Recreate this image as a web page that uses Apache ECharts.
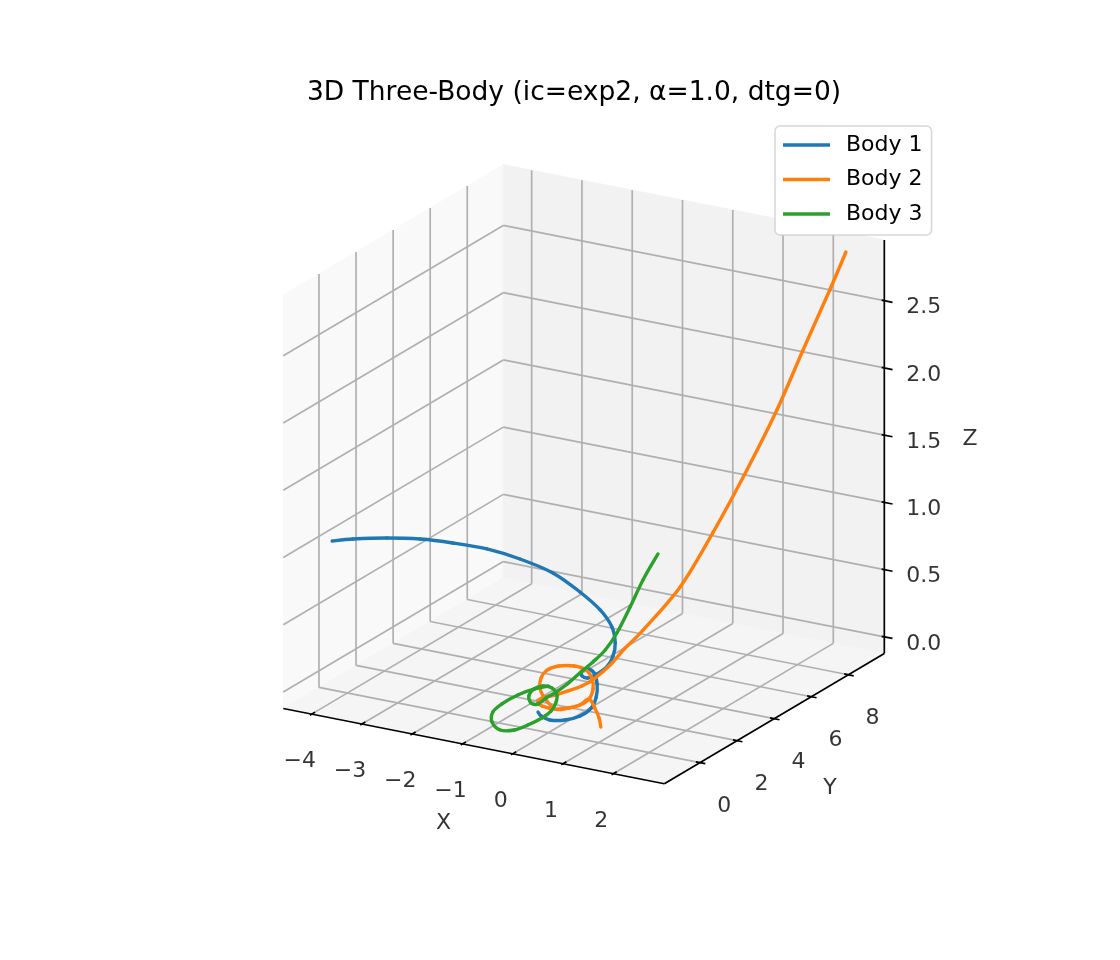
<!DOCTYPE html>
<html>
<head>
<meta charset="utf-8">
<title>3D Three-Body</title>
<script src="https://cdn.jsdelivr.net/npm/echarts@6.0.0/dist/echarts.min.js"></script>
<style>
html, body { margin: 0; padding: 0; background: #fff; }
#chart { width: 1120px; height: 960px; }
</style>
</head>
<body>
<div id="chart"></div>
<script>
// trajectories (x, y, z)
var body1X = [-4.25, -4.02, -3.61, -3.19, -2.74, -2.25, -1.74, -1.17, -0.59, -0.14, 0.16, 0.34, 0.40, 0.38, 0.24, 0.10, -0.07, -0.23, -0.19, 0.00, 0.29, 0.57, 0.74, 0.74, 0.58, 0.32, 0.06, -0.09];
var body1Y = [-0.14, 0.37, 1.08, 1.73, 2.27, 2.78, 3.18, 3.41, 3.30, 3.17, 2.99, 2.68, 2.40, 2.12, 1.97, 1.85, 2.00, 2.43, 2.65, 2.46, 1.84, 1.03, 0.30, -0.30, -0.69, -0.80, -0.55, -0.32];
var body1Z = [1.00, 0.99, 0.97, 0.94, 0.90, 0.85, 0.78, 0.70, 0.61, 0.52, 0.43, 0.35, 0.28, 0.22, 0.17, 0.14, 0.13, 0.12, 0.12, 0.12, 0.11, 0.10, 0.09, 0.08, 0.07, 0.06, 0.05, 0.05];

var body2X = [2.47, 2.27, 1.96, 1.66, 1.30, 0.92, 0.61, 0.26, 0.04, 0.04, 0.04, -0.02, -0.14, -0.26, -0.36, -0.37, -0.18, 0.09, 0.26, 0.36, 0.38, 0.22, -0.04, -0.30, -0.54, -0.77, -0.84, -0.73, -0.53, -0.28, 0.09, 0.26, 0.36, 0.38, 0.59, 0.87, 1.09];
var body2Y = [9.35, 9.02, 8.42, 7.82, 7.18, 6.37, 5.45, 4.40, 4.03, 3.22, 2.40, 1.86, 1.43, 1.07, 0.80, 0.43, 0.14, 0.11, 0.36, 0.72, 1.16, 1.81, 2.45, 2.83, 2.85, 2.64, 2.21, 1.58, 0.98, 0.51, 0.11, 0.36, 0.72, 1.16, 0.90, 0.37, -0.13];
var body2Z = [2.87, 2.60, 2.18, 1.76, 1.34, 0.91, 0.56, 0.30, 0.18, 0.12, 0.09, 0.07, 0.06, 0.05, 0.05, 0.05, 0.05, 0.05, 0.05, 0.05, 0.06, 0.07, 0.08, 0.09, 0.10, 0.10, 0.10, 0.10, 0.09, 0.08, 0.05, 0.05, 0.05, 0.06, 0.03, 0.02, 0.01];

var body3X = [0.43, 0.42, 0.47, 0.52, 0.47, 0.35, 0.23, 0.15, 0.05, -0.05, -0.09, -0.25, -0.46, -0.56, -0.50, -0.32, -0.10, 0.05, 0.08, 0.05, -0.05, -0.16, -0.37, -0.69, -0.90, -0.90, -0.82, -0.65, -0.49];
var body3Y = [4.74, 3.96, 3.13, 2.28, 1.79, 1.45, 1.07, 0.61, 0.28, 0.01, -0.33, -0.26, 0.19, 0.74, 1.06, 1.05, 0.73, 0.26, -0.08, -0.49, -0.98, -1.41, -1.60, -1.17, -0.56, -0.08, 0.57, 1.03, 1.31];
var body3Z = [0.85, 0.72, 0.59, 0.47, 0.38, 0.31, 0.25, 0.20, 0.16, 0.13, 0.11, 0.10, 0.10, 0.10, 0.10, 0.10, 0.09, 0.08, 0.05, 0.03, 0.01, 0.00, 0.00, 0.00, 0.01, 0.03, 0.05, 0.07, 0.08];

var bodyNames = ['Body 1', 'Body 2', 'Body 3'];
var xTicks = [-4, -3, -2, -1, 0, 1, 2];
var yTicks = [0, 2, 4, 6, 8];
var zTicks = [0, 0.5, 1, 1.5, 2, 2.5];

// view box of the 3d axes
var xLim = [-4.565, 3.015];
var yLim = [-1.925, 9.942];
var zLim = [-0.1235, 2.9516];

// camera, like view_init(elev=20, azim=-60), orthographic
var elev = 20, azim = -60;
var boxCx = 583.8, boxCy = 474.25, boxK = 220;
var W = 1120, H = 960;

var se = Math.sin(elev * Math.PI / 180), ce = Math.cos(elev * Math.PI / 180);
var sa = Math.sin(azim * Math.PI / 180), ca = Math.cos(azim * Math.PI / 180);

function nrm(v, lim) { return 2 * (v - lim[0]) / (lim[1] - lim[0]) - 1; }
function proj(x, y, z) {
    var a = nrm(x, xLim), b = nrm(y, yLim), c = nrm(z, zLim);
    return [-sa * a + ca * b, -se * ca * a - se * sa * b + ce * c];
}
function seg(p, q) {
    var a = proj(p[0], p[1], p[2]), b = proj(q[0], q[1], q[2]);
    return [a[0], a[1], b[0], b[1]];
}
function fmt(t, d) {
    var s = d ? Math.abs(t).toFixed(d) : String(Math.abs(t));
    return t < 0 ? '\u2212' + s : s;
}

var xh = (xLim[1] - xLim[0]) / 2, yh = (yLim[1] - yLim[0]) / 2;
var fontFam = 'DejaVu Sans';

// panes
var panes = [
    [[xLim[0], yLim[0], zLim[0]], [xLim[0], yLim[1], zLim[0]], [xLim[0], yLim[1], zLim[1]], [xLim[0], yLim[0], zLim[1]]],
    [[xLim[0], yLim[1], zLim[0]], [xLim[1], yLim[1], zLim[0]], [xLim[1], yLim[1], zLim[1]], [xLim[0], yLim[1], zLim[1]]],
    [[xLim[0], yLim[0], zLim[0]], [xLim[1], yLim[0], zLim[0]], [xLim[1], yLim[1], zLim[0]], [xLim[0], yLim[1], zLim[0]]]
];
var paneFill = ['#f9f9f9', '#f2f2f2', '#f5f5f5'];
var paneData = panes.map(function (p) {
    var out = [];
    p.forEach(function (c) { var q = proj(c[0], c[1], c[2]); out.push(q[0], q[1]); });
    return out;
});

// grid lines on the panes
var gridSegs = [];
xTicks.forEach(function (t) {
    gridSegs.push(seg([t, yLim[0], zLim[0]], [t, yLim[1], zLim[0]]));
    gridSegs.push(seg([t, yLim[1], zLim[0]], [t, yLim[1], zLim[1]]));
});
yTicks.forEach(function (t) {
    gridSegs.push(seg([xLim[0], t, zLim[0]], [xLim[1], t, zLim[0]]));
    gridSegs.push(seg([xLim[0], t, zLim[0]], [xLim[0], t, zLim[1]]));
});
zTicks.forEach(function (t) {
    gridSegs.push(seg([xLim[0], yLim[0], t], [xLim[0], yLim[1], t]));
    gridSegs.push(seg([xLim[0], yLim[1], t], [xLim[1], yLim[1], t]));
});

// axis lines and tick marks
var axisSegs = [
    seg([xLim[0], yLim[0], zLim[0]], [xLim[1], yLim[0], zLim[0]]),
    seg([xLim[1], yLim[0], zLim[0]], [xLim[1], yLim[1], zLim[0]]),
    seg([xLim[1], yLim[1], zLim[0]], [xLim[1], yLim[1], zLim[1]])
];
xTicks.forEach(function (t) {
    axisSegs.push(seg([t, yLim[0] - 0.016 * yh, zLim[0]], [t, yLim[0] + 0.031 * yh, zLim[0]]));
});
yTicks.forEach(function (t) {
    axisSegs.push(seg([xLim[1] - 0.022 * xh, t, zLim[0]], [xLim[1] + 0.028 * xh, t, zLim[0]]));
});
zTicks.forEach(function (t) {
    axisSegs.push(seg([xLim[1] - 0.014 * xh, yLim[1], t], [xLim[1] + 0.043 * xh, yLim[1], t]));
});

function segSeries(segs, color, width, z) {
    return {
        type: 'custom', coordinateSystem: 'cartesian2d', silent: true, z: z,
        data: segs, encode: { x: [0, 2], y: [1, 3] },
        renderItem: function (params, api) {
            var p = api.coord([api.value(0), api.value(1)]);
            var q = api.coord([api.value(2), api.value(3)]);
            return {
                type: 'line',
                shape: { x1: p[0], y1: p[1], x2: q[0], y2: q[1] },
                style: { stroke: color, lineWidth: width, lineCap: 'butt' }
            };
        }
    };
}

function textSeries(items, off) {
    return {
        type: 'scatter', silent: true, symbolSize: 1, z: 4,
        itemStyle: { color: 'rgba(0,0,0,0)' },
        data: items,
        label: {
            show: true, position: 'inside', formatter: '{b}', offset: off,
            color: '#000', fontSize: 22, fontFamily: fontFam
        }
    };
}

var xLabels = xTicks.map(function (t) { return { name: fmt(t), value: proj(t, yLim[0], zLim[0]) }; });
var yLabels = yTicks.map(function (t) { return { name: fmt(t), value: proj(xLim[1], t, zLim[0]) }; });
var zLabels = zTicks.map(function (t) { return { name: fmt(t, 1), value: proj(xLim[1], yLim[1], t) }; });
var xMid = (xLim[0] + xLim[1]) / 2, yMid = (yLim[0] + yLim[1]) / 2, zMid = (zLim[0] + zLim[1]) / 2;

// each trajectory drawn as a chain of cubic pieces through its projected points
function bodySeries(name, xs, ys, zs, color) {
    var pts = xs.map(function (x, i) { return proj(x, ys[i], zs[i]); });
    var n = pts.length, data = [];
    for (var i = 0; i < n - 1; i++) {
        var p0 = pts[Math.max(i - 1, 0)], p1 = pts[i], p2 = pts[i + 1], p3 = pts[Math.min(i + 2, n - 1)];
        data.push([p0[0], p0[1], p1[0], p1[1], p2[0], p2[1], p3[0], p3[1]]);
    }
    return {
        type: 'custom', name: name, coordinateSystem: 'cartesian2d', silent: true, z: 10,
        itemStyle: { color: color },
        data: data, encode: { x: [0, 2, 4, 6], y: [1, 3, 5, 7] },
        renderItem: function (params, api) {
            var c = [];
            for (var k = 0; k < 4; k++) c.push(api.coord([api.value(2 * k), api.value(2 * k + 1)]));
            var a = c[1], b = c[2];
            return {
                type: 'bezierCurve',
                shape: {
                    x1: a[0], y1: a[1], x2: b[0], y2: b[1],
                    cpx1: a[0] + (b[0] - c[0][0]) / 6, cpy1: a[1] + (b[1] - c[0][1]) / 6,
                    cpx2: b[0] - (c[3][0] - a[0]) / 6, cpy2: b[1] - (c[3][1] - a[1]) / 6
                },
                style: { stroke: color, fill: 'none', lineWidth: 3.4, lineCap: 'round' }
            };
        }
    };
}

var chart = echarts.init(document.getElementById('chart'));
chart.setOption({
    animation: false,
    backgroundColor: '#fff',
    grid: { left: 0, right: 0, top: 0, bottom: 0 },
    xAxis: { type: 'value', min: -boxCx / boxK, max: (W - boxCx) / boxK, show: false },
    yAxis: { type: 'value', min: (boxCy - H) / boxK, max: boxCy / boxK, show: false },
    graphic: [{
        type: 'text', x: 574, y: 93,
        style: {
            text: '3D Three-Body (ic=exp2, \u03b1=1.0, dtg=0)',
            fontSize: 26.5, fontFamily: fontFam, fill: '#000',
            align: 'center', verticalAlign: 'middle'
        }
    }],
    legend: {
        data: bodyNames, orient: 'vertical', left: 775, top: 126,
        padding: [7, 9, 9, 8], itemGap: 10.5, itemWidth: 47, itemHeight: 3.3,
        icon: 'rect', selectedMode: false,
        backgroundColor: '#fff', borderColor: 'rgba(204,204,204,0.8)', borderWidth: 1.5, borderRadius: 5,
        textStyle: { fontFamily: fontFam, fontSize: 22, color: '#000', lineHeight: 24, padding: [0, 0, 0, 11] }
    },
    series: [
        {
            type: 'custom', coordinateSystem: 'cartesian2d', silent: true, z: 0,
            data: paneData, encode: { x: [0, 2, 4, 6], y: [1, 3, 5, 7] },
            renderItem: function (params, api) {
                var pts = [];
                for (var i = 0; i < 4; i++) pts.push(api.coord([api.value(2 * i), api.value(2 * i + 1)]));
                var f = paneFill[params.dataIndex];
                return { type: 'polygon', shape: { points: pts }, style: { fill: f, stroke: f, lineWidth: 1 } };
            }
        },
        segSeries(gridSegs, '#b0b0b0', 1.7, 1),
        segSeries(axisSegs, '#000', 1.7, 2),
        textSeries(xLabels, [-12, 47.5]),
        textSeries(yLabels, [24.3, 43.5]),
        textSeries(zLabels, [39.5, 7]),
        textSeries([
            { name: 'X', value: proj(xMid, yLim[0], zLim[0]) }
        ], [-30.3, 77]),
        textSeries([
            { name: 'Y', value: proj(xLim[1], yMid, zLim[0]) }
        ], [55.7, 69.5]),
        textSeries([
            { name: 'Z', value: proj(xLim[1], yLim[1], zMid) }
        ], [85.7, -7.5]),
        bodySeries(bodyNames[0], body1X, body1Y, body1Z, '#1f77b4'),
        bodySeries(bodyNames[1], body2X, body2Y, body2Z, '#ff7f0e'),
        bodySeries(bodyNames[2], body3X, body3Y, body3Z, '#2ca02c')
    ]
});
</script>
</body>
</html>
